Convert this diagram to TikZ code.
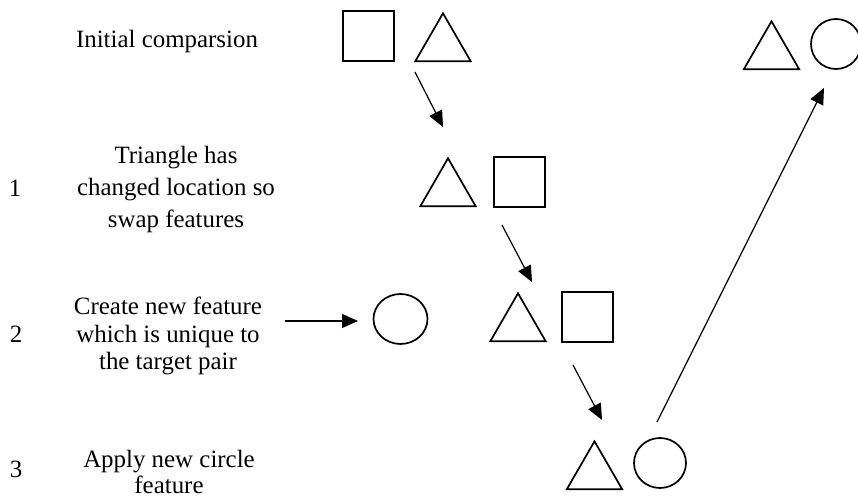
\documentclass[tikz,border=0pt]{standalone}
\usepackage{fontspec}
\setmainfont{Liberation Serif}
\usetikzlibrary{positioning, shapes.geometric, arrows.meta}

\begin{document}
\begin{tikzpicture}[x=0.5pt, y=-0.5pt, >={Triangle[length=8pt, width=7pt]},
    fig/.style={draw, line width=0.85pt, inner sep=0pt},
    sq/.style={fig, rectangle, minimum width=25.5pt, minimum height=25pt},
    tri/.style={fig, regular polygon, regular polygon sides=3, minimum size=32pt},
    circ/.style={fig, ellipse, minimum width=26pt, minimum height=25pt},
    txt/.style={align=center, inner sep=0pt, anchor=base, font=\fontsize{12.45}{16}\selectfont},
    link/.style={->, line width=0.6pt}]

    \useasboundingbox (0,0) rectangle (858,497);

    % Step labels (anchored on the last line)
    \node[txt] (init) at (167,48) {Initial comparsion};
    \node[txt] (step1) at (176,228) {Triangle has\\changed location so\\swap features};
    \node[txt, font=\fontsize{12.45}{13.75}\selectfont] (step2) at (168,370) {Create new feature\\which is unique to\\the target pair};
    \node[txt, font=\fontsize{12.45}{13.4}\selectfont] (step3) at (169,494) {Apply new circle\\feature};

    % Step numbers
    \node[txt] (num1) at (15,197) {1};
    \node[txt] (num2) at (16,343) {2};
    \node[txt] (num3) at (16,478) {3};

    % Initial pair
    \node[sq] (sq0) at (368.5,36) {};
    \node[tri] (tri0) at (443,45.3) {};

    % Swapped pair
    \node[tri] (tri1) at (448,190.3) {};
    \node[sq] (sq1) at (519.5,182) {};

    % New feature and pair
    \node[circ, minimum width=27pt] (circ2) at (400.5,319) {};
    \node[tri] (tri2) at (518,325.3) {};
    \node[sq] (sq2) at (587.5,317) {};

    % Circle applied
    \node[tri] (tri3) at (594.5,473.3) {};
    \node[circ] (circ3) at (660,463) {};

    % Target pair
    \node[tri] (tri4) at (771.5,53.3) {};
    \node[circ, minimum width=25pt] (circ4) at (836,44) {};

    % Arrow ends
    \coordinate (a1s) at (415,72);
    \coordinate (a1e) at (443,127);
    \coordinate (a2s) at (502,225);
    \coordinate (a2e) at (532,282);
    \coordinate (a3s) at (573,365);
    \coordinate (a3e) at (602,420);
    \coordinate (a4s) at (285,321);
    \coordinate (a4e) at (358,321);
    \coordinate (a5s) at (657,422);
    \coordinate (a5e) at (824,88);

    \draw[link] (a1s) -- (a1e);
    \draw[link] (a2s) -- (a2e);
    \draw[link] (a3s) -- (a3e);
    \draw[link] (a4s) -- (a4e);
    \draw[link] (a5s) -- (a5e);

\end{tikzpicture}
\end{document}
